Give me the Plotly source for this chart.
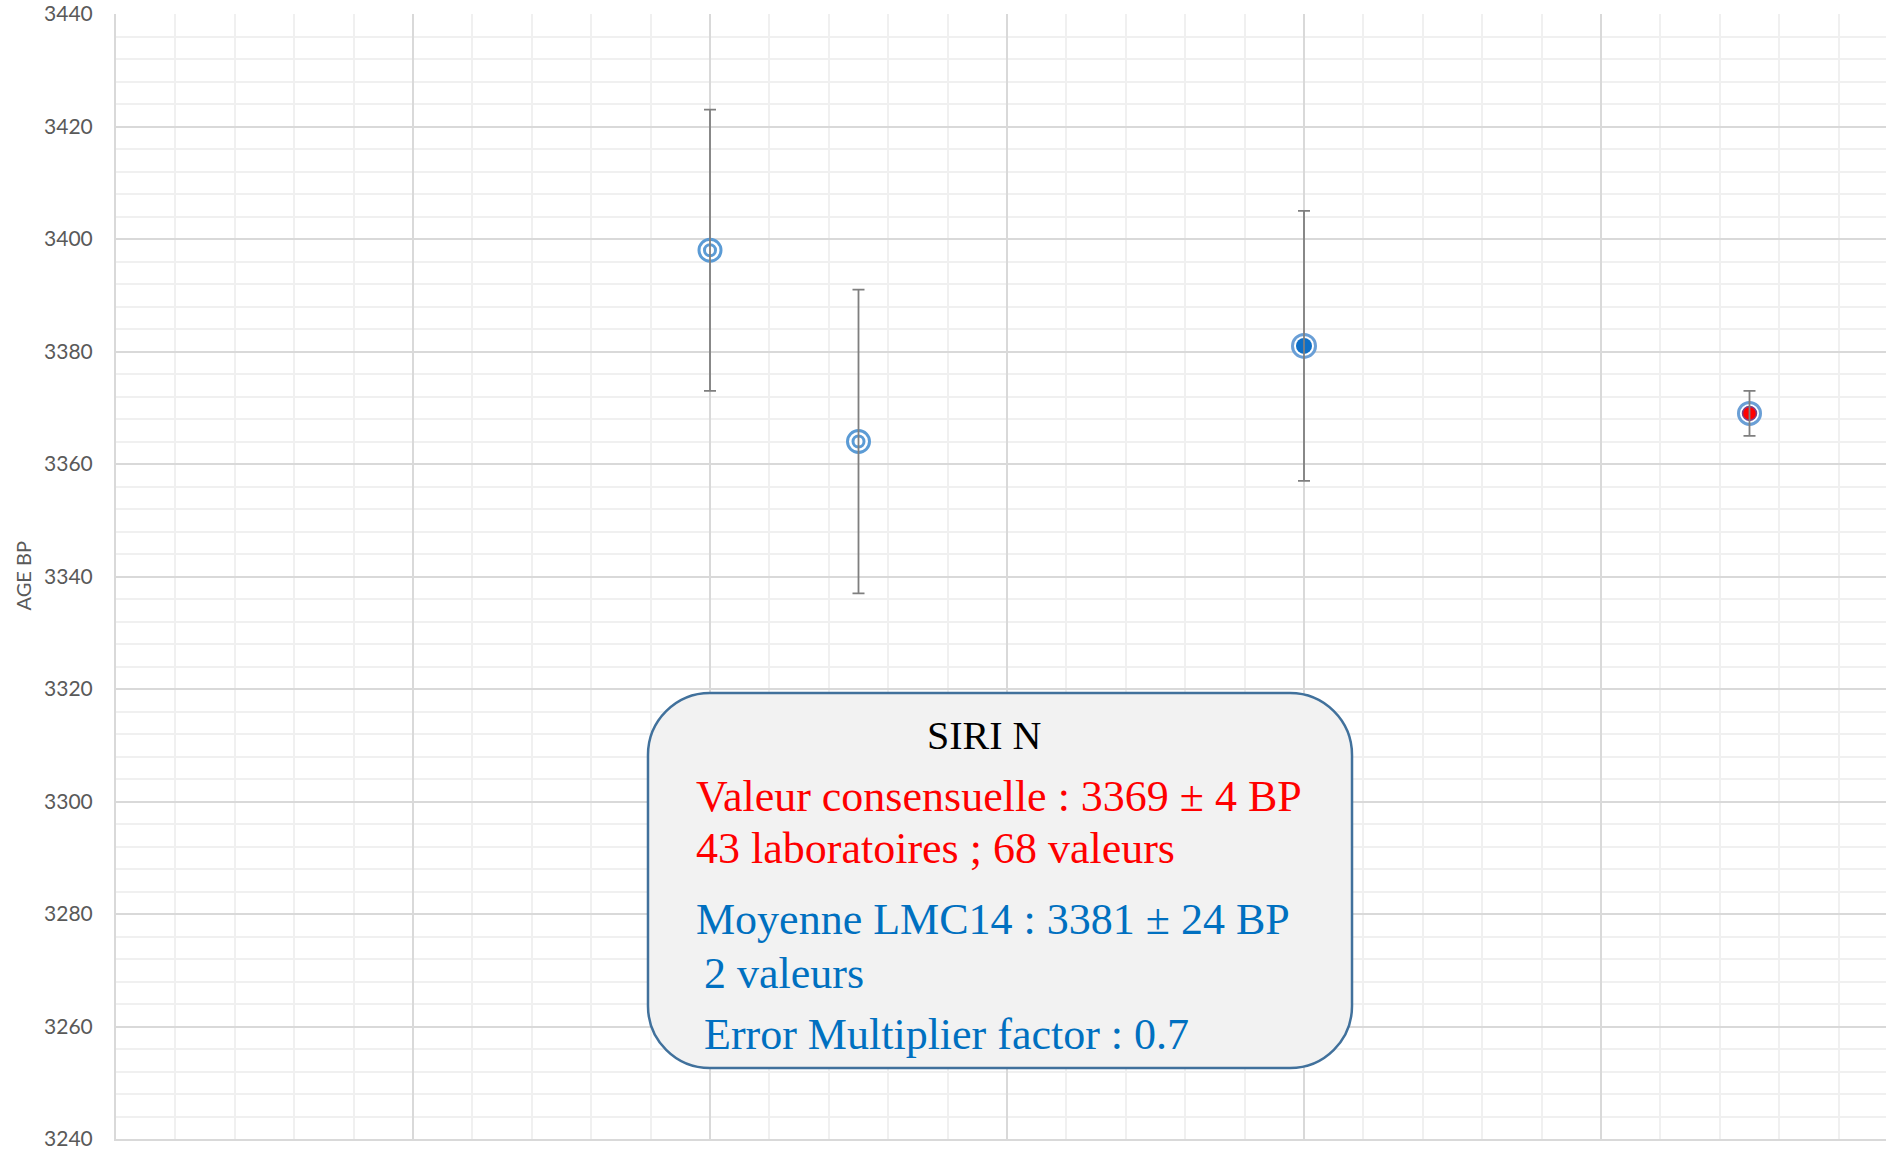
import plotly.graph_objects as go

# ---- data ----
x_pos = [2.0, 2.5, 4.0, 5.5]
ages = [3398, 3364, 3381, 3369]
errors = [25, 27, 24, 4]
kinds = ["lab", "lab", "mean", "consensus"]

y_ticks = list(range(3240, 3441, 20))

title_text = "SIRI N"
red_lines = ["Valeur consensuelle : 3369 ± 4 BP", "43 laboratoires ; 68 valeurs"]
blue_lines = ["Moyenne LMC14 : 3381 ± 24 BP", "2 valeurs", "Error Multiplier factor : 0.7"]

W, H = 1886, 1151
L, R, T, B = 116, 0, 14, 12
PW, PH = W - L - R, H - T - B

def px(xp):
    return (xp - L) / PW

def py(yp):
    return (H - B - yp) / PH

RING = "#5b9bd5"
fig = go.Figure()

lab_x = [x for x, k in zip(x_pos, kinds) if k == "lab"]
lab_y = [y for y, k in zip(ages, kinds) if k == "lab"]
mean_x = [x for x, k in zip(x_pos, kinds) if k == "mean"]
mean_y = [y for y, k in zip(ages, kinds) if k == "mean"]
cons_x = [x for x, k in zip(x_pos, kinds) if k == "consensus"]
cons_y = [y for y, k in zip(ages, kinds) if k == "consensus"]

# lab values: bullseye markers
fig.add_trace(go.Scatter(x=lab_x, y=lab_y, mode="markers",
                         marker=dict(symbol="circle", size=22, color="white",
                                     line=dict(color=RING, width=3))))
fig.add_trace(go.Scatter(x=lab_x, y=lab_y, mode="markers",
                         marker=dict(symbol="circle-open", size=11, color=RING,
                                     line=dict(color=RING, width=3))))
# mean LMC14
fig.add_trace(go.Scatter(x=mean_x, y=mean_y, mode="markers",
                         marker=dict(symbol="circle", size=23, color="white",
                                     line=dict(color="#6a9fd6", width=3))))
fig.add_trace(go.Scatter(x=mean_x, y=mean_y, mode="markers",
                         marker=dict(symbol="circle", size=16, color="#0f6fc6",
                                     line=dict(width=0))))
# consensus
fig.add_trace(go.Scatter(x=cons_x, y=cons_y, mode="markers",
                         marker=dict(symbol="circle", size=22, color="white",
                                     line=dict(color="#6a9fd6", width=3))))
fig.add_trace(go.Scatter(x=cons_x, y=cons_y, mode="markers",
                         marker=dict(symbol="circle", size=14, color="#ff0000",
                                     line=dict(color="#7a3f86", width=1.5))))
# error bars on top
fig.add_trace(go.Scatter(x=x_pos, y=ages, mode="markers",
                         marker=dict(size=1, opacity=0),
                         error_y=dict(type="data", array=errors, visible=True,
                                      color="#7f7f7f", thickness=1.8, width=6)))

# rounded box
x0, x1, y0, y1 = 648, 1352, 693, 1068
r = 62
k = 0.5523 * r
def P(a, b):
    return f"{px(a):.5f},{py(b):.5f}"
path = (f"M {P(x0 + r, y0)} L {P(x1 - r, y0)} "
        f"C {P(x1 - r + k, y0)} {P(x1, y0 + r - k)} {P(x1, y0 + r)} "
        f"L {P(x1, y1 - r)} "
        f"C {P(x1, y1 - r + k)} {P(x1 - r + k, y1)} {P(x1 - r, y1)} "
        f"L {P(x0 + r, y1)} "
        f"C {P(x0 + r - k, y1)} {P(x0, y1 - r + k)} {P(x0, y1 - r)} "
        f"L {P(x0, y0 + r)} "
        f"C {P(x0, y0 + r - k)} {P(x0 + r - k, y0)} {P(x0 + r, y0)} Z")
fig.add_shape(type="path", path=path, xref="paper", yref="paper",
              fillcolor="#f2f2f2", line=dict(color="#41719c", width=2.5), layer="above")

SERIF = "Liberation Serif"
annots = []
annots.append(dict(text=title_text, x=px(984), y=py(735), xanchor="center", yanchor="middle",
                   font=dict(family=SERIF, size=40, color="black")))
red_y = [796, 848]
for t, yy in zip(red_lines, red_y):
    annots.append(dict(text=t, x=px(694), y=py(yy), xanchor="left", yanchor="middle",
                       font=dict(family=SERIF, size=44, color="#ff0000")))
blue_y = [919, 974, 1034]
blue_x = [694, 702, 702]
for t, yy, xx in zip(blue_lines, blue_y, blue_x):
    annots.append(dict(text=t, x=px(xx), y=py(yy), xanchor="left", yanchor="middle",
                       font=dict(family=SERIF, size=44, color="#0070c0")))
annots.append(dict(text="AGE BP", x=px(22), y=0.5, xanchor="center", yanchor="middle",
                   textangle=-90, font=dict(family="Lato", size=20, color="#595959")))
for a in annots:
    a.update(xref="paper", yref="paper", showarrow=False)

fig.update_layout(
    width=W, height=H,
    margin=dict(l=L, r=R, t=T, b=B, pad=0),
    paper_bgcolor="white", plot_bgcolor="white",
    showlegend=False,
    annotations=annots,
    xaxis=dict(range=[0, PW / 297.0], dtick=1, tick0=0, showticklabels=False,
               showgrid=True, gridcolor="#d9d9d9", gridwidth=2,
               minor=dict(dtick=0.2, tick0=0, showgrid=True, gridcolor="#f0f0f0", gridwidth=2),
               zeroline=False, showline=True, linecolor="#d9d9d9", linewidth=2, ticks=""),
    yaxis=dict(range=[3240, 3440], tickvals=y_ticks, ticktext=[str(v) for v in y_ticks],
               showgrid=True, gridcolor="#d9d9d9", gridwidth=2,
               minor=dict(dtick=4, tick0=3240, showgrid=True, gridcolor="#f0f0f0", gridwidth=2),
               zeroline=False, showline=True, linecolor="#d9d9d9", linewidth=2, ticks="",
               ticklabelstandoff=17,
               tickfont=dict(family="Lato", size=21, color="#595959")),
)

fig.write_html("out.html", config={"displayModeBar": False},
               post_script="document.body.style.margin='0';document.body.style.overflow='hidden';")
